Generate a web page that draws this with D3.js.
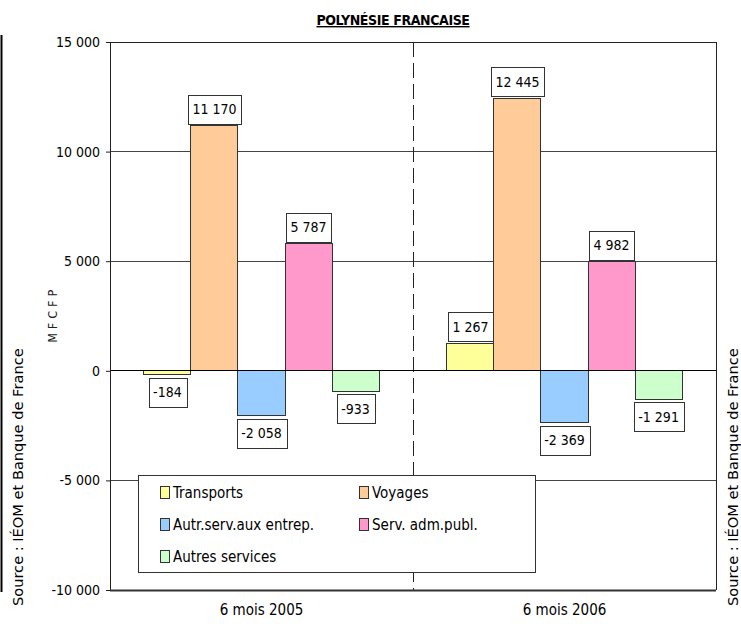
<!DOCTYPE html>
<html><head><meta charset="utf-8">
<script src="https://cdn.jsdelivr.net/npm/d3@7"></script>
<style>
body{margin:0;background:#fff;}
svg{display:block;}
.cond{font-family:"Liberation Sans Narrow","DejaVu Sans Condensed","Arial Narrow",sans-serif;font-stretch:condensed;}
</style></head>
<body>
<svg id="chart" width="741" height="624"></svg>
<script>
const categories = ["6 mois 2005", "6 mois 2006"];
const series = ["Transports", "Voyages", "Autr.serv.aux entrep.", "Serv. adm.publ.", "Autres services"];
const colors = ["#FFFF99", "#FFCC99", "#99CCFF", "#FF99CC", "#CCFFCC"];
const values2005 = [-184, 11170, -2058, 5787, -933];
const values2006 = [1267, 12445, -2369, 4982, -1291];
const yTicks = [-10000, -5000, 0, 5000, 10000, 15000];
const title = "POLYNÉSIE FRANCAISE";
const yLabel = "M F C F P";
const source = "Source : IÉOM et Banque de France";

const allValues = [values2005, values2006];
const svg = d3.select("#chart");
const L = 110, R = 716, T = 42, B = 590;
const fmt = v => (v < 0 ? "-" : "") + d3.format(",")(Math.abs(v)).replace(/,/g, " ");

const y = d3.scaleLinear().domain([-10000, 15000]).range([B, T]);
const x0 = d3.scaleBand().domain(categories).range([L, R]);
const x1 = d3.scaleBand().domain(series).range([0, x0.bandwidth()]).paddingOuter(0.72);
const color = d3.scaleOrdinal().domain(series).range(colors);

// gridlines
svg.append("g").selectAll("line").data(yTicks.filter(t => t !== 0 && t !== -10000 && t !== 15000))
  .join("line").attr("x1", L).attr("x2", R).attr("y1", d => y(d)).attr("y2", d => y(d))
  .attr("stroke", "#444").attr("stroke-width", 1).attr("shape-rendering", "crispEdges");

// dashed separator
svg.append("line").attr("x1", x0(categories[1])).attr("x2", x0(categories[1]))
  .attr("y1", T).attr("y2", B).attr("stroke", "#222").attr("stroke-dasharray", "15,6")
  .attr("shape-rendering", "crispEdges");

// frame top & right
svg.append("path").attr("d", `M${L},${T}H${R}V${B}`).attr("fill", "none").attr("stroke", "#222")
  .attr("shape-rendering", "crispEdges");

// bars
const groups = svg.append("g").selectAll("g").data(categories).join("g")
  .attr("transform", d => `translate(${x0(d)},0)`);
groups.selectAll("rect").data((c, i) => series.map((s, j) => ({s, v: allValues[i][j]})))
  .join("rect")
  .attr("x", d => x1(d.s)).attr("width", x1.bandwidth())
  .attr("y", d => y(Math.max(0, d.v))).attr("height", d => Math.abs(y(d.v) - y(0)))
  .attr("fill", d => color(d.s)).attr("stroke", "#333").attr("stroke-width", 1)
  .attr("shape-rendering", "crispEdges");

// zero line
svg.append("line").attr("x1", L).attr("x2", R).attr("y1", y(0)).attr("y2", y(0))
  .attr("stroke", "#000").attr("shape-rendering", "crispEdges");

// data labels
groups.each(function(c, i) {
  const g = d3.select(this);
  series.forEach((s, j) => {
    const v = allValues[i][j];
    const cx = x1(s) + x1.bandwidth() / 2;
    const lg = g.append("g");
    const t = lg.append("text").attr("class", "cond").attr("font-size", 14)
      .attr("text-anchor", "middle").attr("x", cx).text(fmt(v));
    const w = t.node().getComputedTextLength() + 9;
    const h = 29;
    const top = v >= 0 ? y(v) - 2 - h : y(v) + 3;
    lg.insert("rect", "text").attr("x", Math.round(cx - w / 2) + 0.5).attr("y", Math.round(top) + 0.5)
      .attr("width", Math.round(w)).attr("height", h).attr("fill", "#fff").attr("stroke", "#333");
    t.attr("y", top + h / 2 + 5);
  });
});

// y axis
const yAxis = svg.append("g").attr("transform", `translate(${L},0)`)
  .call(d3.axisLeft(y).tickValues(yTicks).tickSize(4).tickPadding(6).tickFormat(fmt));
yAxis.select(".domain").attr("stroke", "#222").attr("shape-rendering", "crispEdges");
yAxis.selectAll("line").attr("stroke", "#222");
yAxis.selectAll("text").attr("class", "cond").attr("font-size", 14).attr("font-family", null).attr("fill", "#000");

// bottom axis line
svg.append("line").attr("x1", L).attr("x2", R).attr("y1", B + 0.5).attr("y2", B + 0.5)
  .attr("stroke", "#333").attr("stroke-width", 2);

// category labels
svg.append("g").selectAll("text").data(categories).join("text").attr("class", "cond")
  .attr("font-size", 15).attr("text-anchor", "middle")
  .attr("x", d => x0(d) + x0.bandwidth() / 2).attr("y", 615).text(d => d);

// title
svg.append("text").attr("class", "cond").attr("font-size", 14).attr("font-weight", "bold")
  .attr("letter-spacing", -0.4)
  .attr("text-anchor", "middle").attr("x", 393).attr("y", 25)
  .attr("text-decoration", "underline").text(title);

// y label
svg.append("text").attr("class", "cond").attr("font-size", 12).attr("letter-spacing", 0.4)
  .attr("fill", "#222")
  .attr("text-anchor", "middle").attr("transform", "translate(57,316) rotate(-90)").text(yLabel);

// sources
svg.append("text").attr("font-family", "DejaVu Sans, sans-serif").attr("font-size", 14.6)
  .attr("text-anchor", "start").attr("transform", "translate(23,606) rotate(-90)").text(source);
svg.append("text").attr("font-family", "DejaVu Sans, sans-serif").attr("font-size", 14.6)
  .attr("text-anchor", "start").attr("transform", "translate(738,606) rotate(-90)").text(source);

// left border line
svg.append("line").attr("x1", 1.5).attr("x2", 1.5).attr("y1", 35).attr("y2", 592)
  .attr("stroke", "#000").attr("stroke-width", 2);

// legend
const lgX = 138, lgY = 475, lgW = 397, lgH = 97;
const legend = svg.append("g");
legend.append("rect").attr("x", lgX + 0.5).attr("y", lgY + 0.5).attr("width", lgW).attr("height", lgH)
  .attr("fill", "#fff").attr("stroke", "#333");
const colX = [160, 359], rowY = [493, 525, 557];
series.forEach((s, j) => {
  const cx = colX[j % 2], cy = rowY[Math.floor(j / 2)];
  legend.append("rect").attr("x", cx + 0.5).attr("y", cy - 6.5).attr("width", 9).attr("height", 12)
    .attr("fill", color(s)).attr("stroke", "#333");
  legend.append("text").attr("class", "cond").attr("font-size", 15).attr("x", cx + 13).attr("y", cy + 5).text(s);
});
</script>
</body></html>
